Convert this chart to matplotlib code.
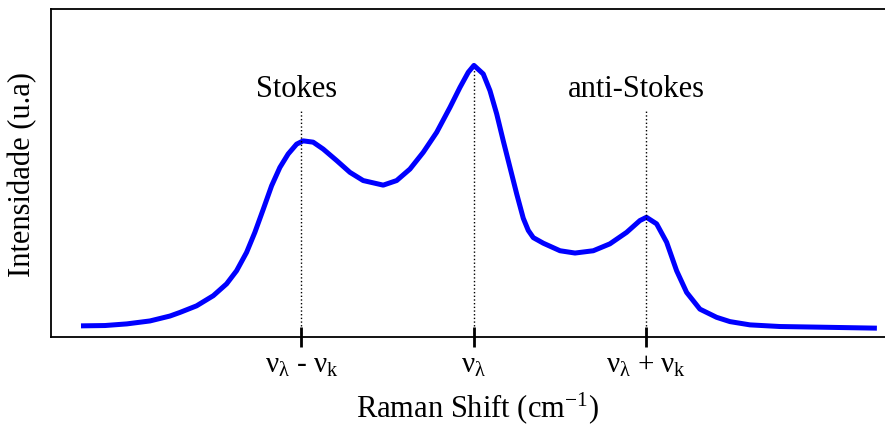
import matplotlib.pyplot as plt

plt.rcParams['font.family'] = ['Liberation Serif', 'DejaVu Serif']
plt.rcParams['mathtext.fontset'] = 'custom'
plt.rcParams['mathtext.rm'] = 'Liberation Serif'
plt.rcParams['mathtext.it'] = 'Liberation Serif'
plt.rcParams['mathtext.bf'] = 'Liberation Serif:bold'

# Raman spectrum sketch: shift relative to the laser line (units of nu_k)
shift = [-2.278, -2.139, -2.012, -1.878, -1.762, -1.704, -1.608, -1.511,
         -1.434, -1.376, -1.318, -1.270, -1.221, -1.173, -1.125, -1.077,
         -1.028, -0.99, -0.932, -0.874, -0.796, -0.719, -0.642, -0.526,
         -0.448, -0.371, -0.294, -0.216, -0.139, -0.081, -0.033, 0.0,
         0.054, 0.093, 0.132, 0.170, 0.209, 0.248, 0.286, 0.315, 0.344,
         0.402, 0.499, 0.586, 0.692, 0.788, 0.885, 0.962, 1.0,
         1.059, 1.117, 1.175, 1.233, 1.310, 1.407, 1.484, 1.600,
         1.774, 2.006, 2.336]
intensity = [0.034, 0.035, 0.040, 0.049, 0.064, 0.075, 0.095, 0.126,
             0.162, 0.202, 0.258, 0.319, 0.390, 0.461, 0.517, 0.558,
             0.588, 0.598, 0.594, 0.573, 0.538, 0.502, 0.477, 0.463,
             0.477, 0.512, 0.563, 0.624, 0.700, 0.761, 0.807, 0.828,
             0.802, 0.751, 0.680, 0.598, 0.517, 0.436, 0.362, 0.325, 0.303,
             0.286, 0.263, 0.256, 0.263, 0.284, 0.319, 0.355, 0.365,
             0.345, 0.289, 0.202, 0.136, 0.085, 0.060, 0.047, 0.037,
             0.032, 0.030, 0.027]

tick_pos = [-1, 0, 1]
tick_labels = [r'$\nu_\lambda$ - $\nu_\mathrm{k}$', r'$\nu_\lambda$',
               r'$\nu_\lambda$ + $\nu_\mathrm{k}$']
band_names = ['Stokes', 'anti-Stokes']
band_pos = [-1, 1]
band_text_x = [-1.03, 0.94]

fig = plt.figure(figsize=(8.85, 4.27), dpi=100)
ax = fig.add_axes([0.0576, 0.2084, 0.9424, 0.7682])

ax.plot(shift, intensity, color='#0000ff', lw=3.6, solid_capstyle='butt',
        solid_joinstyle='round')

# guide lines under the bands and the laser line
line_top = 0.695
for pos, name, tx in zip(band_pos, band_names, band_text_x):
    ax.plot([pos, pos], [0, line_top], color='black', lw=1.0, ls=':')
    ax.text(tx, 0.735, name, ha='center', va='baseline', fontsize=22)
ax.plot([0, 0], [0, max(intensity)], color='black', lw=1.0, ls=':', zorder=1)

ax.set_xlim(-2.452, 2.383)
ax.set_ylim(0, 1)
ax.set_xticks(tick_pos)
ax.set_xticklabels(tick_labels, fontsize=21)
ax.set_yticks([])
ax.tick_params(axis='x', direction='inout', length=14, width=2, pad=4)

ax.spines['right'].set_visible(False)
for side in ['left', 'top', 'bottom']:
    ax.spines[side].set_linewidth(1.3)

ax.set_xlabel(r'Raman Shift (cm$^{\mathrm{-1}}$)', fontsize=22)
ax.set_ylabel('Intensidade (u.a)', fontsize=22, labelpad=10)
ax.xaxis.set_label_coords(0.511, -0.16)

fig.savefig('out.png', dpi=100)
